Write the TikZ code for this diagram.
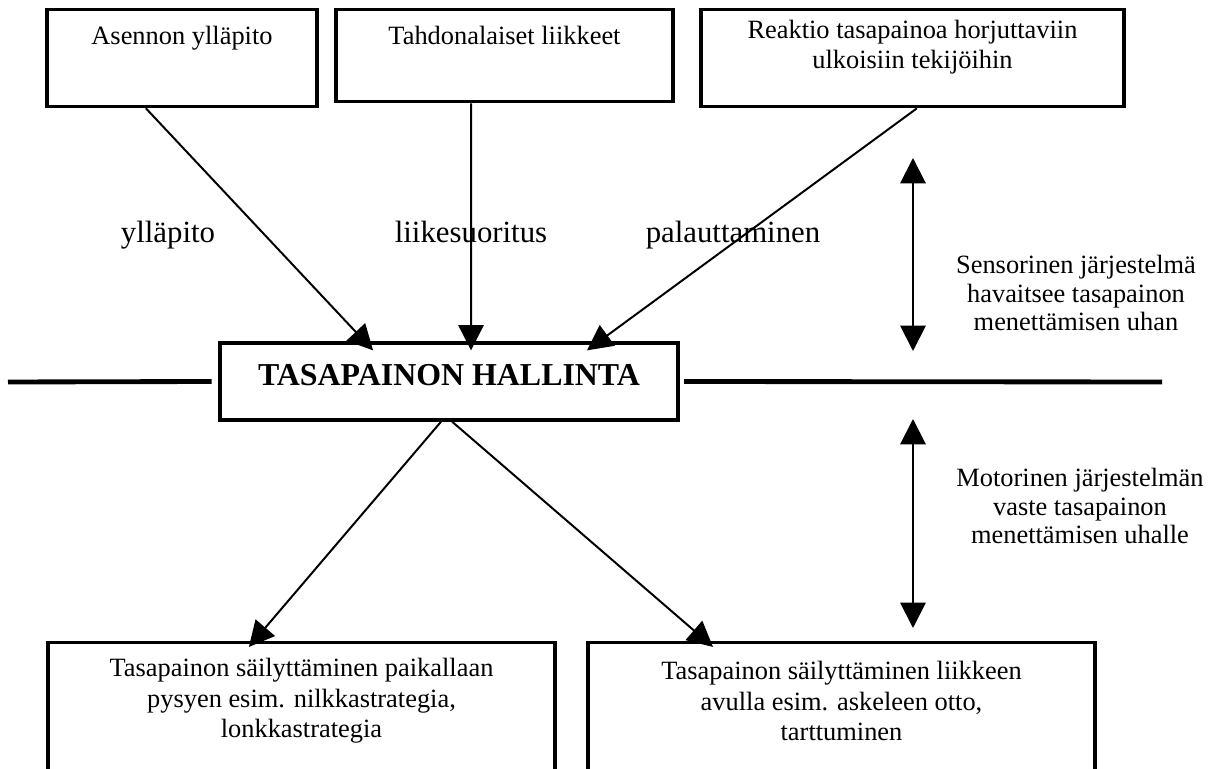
\documentclass[tikz,border=0pt]{standalone}
\usepackage{fontspec}
\setmainfont{Liberation Serif}
\usetikzlibrary{arrows.meta,positioning}

\begin{document}
\begin{tikzpicture}[x=0.4545pt, y=-0.4545pt, >={Triangle[length=11.5pt,width=11.5pt]},
        font=\fontsize{12}{13.8}\selectfont,
        box/.style={draw, line width=1.5pt, inner sep=0pt, anchor=north},
        boxtext/.style={inner sep=0pt, align=center},
        armtext/.style={inner sep=0pt, anchor=base, font=\fontsize{14}{16}\selectfont},
        sidetext/.style={inner sep=0pt, align=center, font=\fontsize{12}{12.8}\selectfont},
        conn/.style={->, line width=0.9pt},
        axis line/.style={line width=2.2pt}]
    \useasboundingbox (0,0) rectangle (1216,769);
    \clip (0,0) rectangle (1216,769);
    \node[box, minimum width=122.7pt, minimum height=44.1pt] (asento) at (182,8) {};
    \node[box, minimum width=153.2pt, minimum height=41.8pt] (tahto) at (504.5,8) {};
    \node[box, minimum width=192.3pt, minimum height=44.1pt] (reaktio) at (912.5,8) {};
    \node[boxtext, anchor=base] (asentoteksti) at (182,45) {Asennon ylläpito};
    \node[boxtext, anchor=base] (tahtoteksti) at (504.5,45) {Tahdonalaiset liikkeet};
    \node[boxtext] (reaktioteksti) at (912.5,47) {Reaktio tasapainoa horjuttaviin\\ulkoisiin tekijöihin};
    \node[draw, line width=1.5pt, minimum width=208.2pt, minimum height=35pt, text height=10pt, text depth=6pt,
        font=\fontsize{14.5}{16}\selectfont\bfseries] (hallinta) at (449,381.5) {TASAPAINON HALLINTA};
    \node[box, minimum width=230.4pt, minimum height=80pt] (paikallaan) at (301.5,641) {};
    \node[box, minimum width=230.4pt, minimum height=80pt] (liikkeen) at (841.5,641) {};
    \node[boxtext] (paikallaanteksti) at (301.5,701) {Tasapainon säilyttäminen paikallaan\\pysyen esim. nilkkastrategia,\\lonkkastrategia};
    \node[boxtext] (liikkeenteksti) at (841.5,701) {Tasapainon säilyttäminen liikkeen\\avulla esim. askeleen otto,\\tarttuminen};
    \node[armtext] (yllapito) at (168,243) {ylläpito};
    \node[armtext] (liikesuoritus) at (471,243) {liikesuoritus};
    \node[armtext] (palauttaminen) at (733,243) {palauttaminen};
    \node[sidetext] (sensori) at (1076,293) {Sensorinen järjestelmä\\havaitsee tasapainon\\menettämisen uhan};
    \node[sidetext] (motori) at (1080,506) {Motorinen järjestelmän\\vaste tasapainon\\menettämisen uhalle};
    \draw[conn] ([xshift=-16.4pt]asento.south) -- ([xshift=-34.5pt, yshift=-4.1pt]hallinta.north);
    \draw[conn] ([xshift=-15.2pt]tahto.south) -- ([xshift=10pt, yshift=-4.1pt]hallinta.north);
    \draw[conn] ([xshift=2pt]reaktio.south) -- ([xshift=62.7pt, yshift=-4.1pt]hallinta.north);
    \draw[conn] ([xshift=-3.6pt]hallinta.south) -- ([xshift=-23.9pt, yshift=-2.7pt]paikallaan.north);
    \draw[conn] ([xshift=1.4pt]hallinta.south) -- ([xshift=-58.4pt, yshift=-2.7pt]liikkeen.north);
    \coordinate (vasen) at (8,382);
    \coordinate (oikea) at (1162,382);
    \draw[axis line] (vasen) -- ([xshift=-3pt]hallinta.west);
    \draw[axis line] ([xshift=2pt]hallinta.east) -- (oikea);
    \coordinate (sensoriyla) at (913,158);
    \coordinate (sensoriala) at (913,351);
    \coordinate (motoriyla) at (913,419);
    \coordinate (motoriala) at (913,628);
    \draw[<->, line width=0.9pt] (sensoriyla) -- (sensoriala);
    \draw[<->, line width=0.9pt] (motoriyla) -- (motoriala);
\end{tikzpicture}
\end{document}
